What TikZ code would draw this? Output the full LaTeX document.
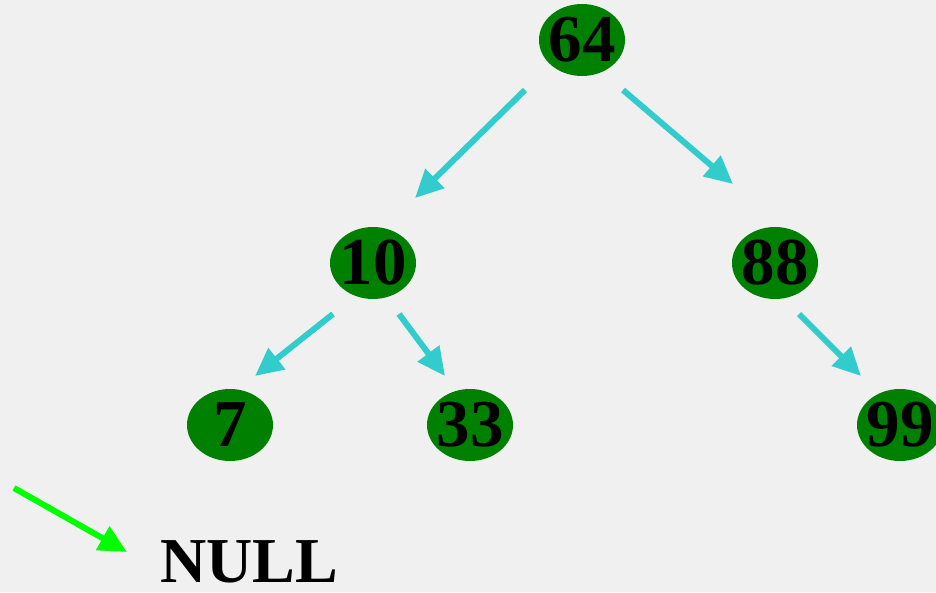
\documentclass[tikz,border=0pt]{standalone}
\usepackage{fontspec}
\setmainfont{Liberation Serif}
\usetikzlibrary{shapes.geometric, arrows.meta, positioning}
\definecolor{paper}{HTML}{F0F0F0}
\definecolor{keygreen}{HTML}{008000}
\definecolor{linkcyan}{HTML}{33CCCC}
\definecolor{nullgreen}{HTML}{00FF00}

\begin{document}
\begin{tikzpicture}[
    x=1pt, y=-1pt,
    on grid,
    key/.style={ellipse, fill=keygreen, inner sep=-6pt, minimum width=86pt, minimum height=72pt,
        font=\fontsize{67}{67}\selectfont\bfseries},
    link/.style={-{Triangle[length=28pt,width=26pt]}, line width=6pt, draw=linkcyan},
    nulllink/.style={-{Triangle[length=28pt,width=26pt]}, line width=6pt, draw=nullgreen}
]
    \fill[paper] (0,0) rectangle (936,592);
    \useasboundingbox (0,0) rectangle (936,592);

    % tree
    \node[key] at (582,40)                      (n64) {64};
    \node[key, below left=223pt and 209pt of n64]  (n10) {10};
    \node[key, below right=223pt and 193pt of n64] (n88) {88};
    \node[key, below left=162pt and 143pt of n10]  (n7)  {7};
    \node[key, below right=162pt and 97pt of n10]  (n33) {33};
    \node[key, below right=162pt and 125pt of n88] (n99) {99};

    % links start and end a little off the keys
    \draw[link] ([shift={(-57,50)}]n64.center) -- ([shift={(42,-65)}]n10.center);
    \draw[link] ([shift={(41,50)}]n64.center)  -- ([shift={(-42,-79)}]n88.center);
    \draw[link] ([shift={(-40,51)}]n10.center) -- ([shift={(25,-49)}]n7.center);
    \draw[link] ([shift={(26,51)}]n10.center)  -- ([shift={(-25,-49)}]n33.center);
    \draw[link] ([shift={(24,51)}]n88.center)  -- ([shift={(-39,-49)}]n99.center);

    % legend
    \coordinate (nfrom) at (14,488);
    \coordinate (nto)   at (127,552);
    \node[anchor=base west, inner sep=0pt, font=\fontsize{64}{64}\selectfont\bfseries] at (160,582) (null) {NULL};
    \draw[nulllink] (nfrom) -- (nto);
\end{tikzpicture}
\end{document}
